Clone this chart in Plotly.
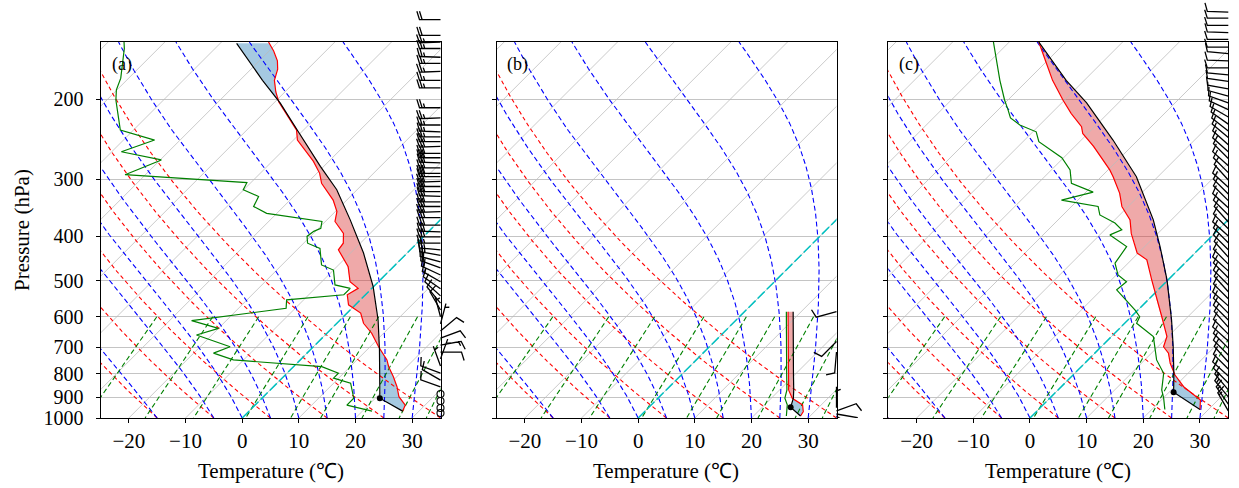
import numpy as np
import plotly.graph_objects as go

# ---------------- data ----------------
# Panel (a): temperature, dew point, parcel profile
a_p = [966, 937, 898, 854, 812, 772, 746, 709, 698, 652, 620, 589, 565, 537, 520, 503, 466, 428, 414, 394,
       371, 353, 333, 306, 291, 274, 254, 246, 234, 218, 203, 193, 182, 172, 165, 157, 150]
a_T = [27.1, 26.5, 23.9, 21.8, 19.4, 16.8, 15.3, 12.4, 11.5, 7.9, 4.7, 2.4, -1.2, -3.2, -2.4, -5.0, -8.0, -12.7,
       -13.0, -14.7, -18.3, -19.7, -22.4, -27.4, -29.5, -32.7, -37.4, -39.3, -41.2, -45.3, -49.3, -51.6, -53.9,
       -55.3, -56.8, -59.2, -61.7]
a_pd = [966, 937, 905, 868, 839, 818, 798, 772, 746, 721, 698, 658, 636, 612, 575, 551, 537, 520, 511, 474,
        462, 425, 414, 400, 390, 384, 371, 356, 344, 327, 316, 305, 293, 272, 261, 246, 234, 215, 201, 191,
        180, 155, 150]
a_Td = [21.7, 16.2, 16.2, 14.4, 13.0, 9.1, 9.1, 5.0, -11.8, -16.5, -14.7, -22.7, -20.0, -26.1, -11.6, -13.0,
        -3.8, -3.8, -7.1, -10.0, -13.0, -16.2, -19.3, -20.6, -20.3, -19.6, -20.6, -31.8, -35.3, -36.2, -40.1,
        -40.7, -63.6, -59.8, -68.3, -64.5, -72.3, -75.7, -78.4, -80.1, -81.4, -86.0, -87.2]
a_pp = [966, 905, 850, 800, 709, 610, 515, 435, 368, 316, 281, 238, 204, 182, 151]
a_Tp = [27.1, 20.8, 18.6, 16.5, 12.2, 6.7, -0.1, -7.7, -15.9, -23.6, -30.6, -40.1, -48.9, -56.0, -67.1]
a_lcl = (905, 20.8)

# Panel (b)
b_p = [990, 968, 936, 905, 868, 800, 750, 700, 650, 585]
b_T = [28.3, 28.0, 26.7, 23.7, 21.6, 18.7, 16.4, 14.0, 11.4, 7.7]
b_pd = [990, 977, 936, 905, 868, 800, 750, 700, 650, 585]
b_Td = [25.8, 25.4, 24.0, 22.4, 21.3, 18.4, 16.1, 13.7, 11.1, 7.4]
b_pp = [990, 947, 905, 868, 800, 700, 585]
b_Tp = [28.3, 25.0, 23.9, 22.5, 19.6, 14.9, 8.6]
b_lcl = (947, 25.0)

# Panel (c)
c_p = [958, 913, 854, 805, 759, 721, 698, 663, 600, 580, 551, 511, 498, 450, 435, 394, 368, 344, 322, 296,
       286, 254, 238, 230, 215, 201, 182, 167, 150]
c_T = [28.5, 26.9, 21.6, 18.0, 15.1, 13.0, 11.0, 9.8, 5.4, 3.9, 1.5, -1.7, -2.9, -7.3, -10.2, -14.7, -17.3,
       -21.1, -23.8, -27.9, -29.7, -36.7, -40.9, -42.3, -46.5, -50.3, -55.6, -59.7, -64.8]
c_pd = [958, 905, 868, 798, 746, 698, 663, 620, 600, 580, 524, 503, 486, 458, 421, 397, 387, 374, 359, 344,
        333, 320, 306, 286, 269, 248, 236, 228, 220, 211, 201, 182, 164, 150]
c_Td = [22.3, 20.1, 18.3, 15.7, 12.1, 9.5, 7.4, 2.1, 1.5, -0.5, -7.3, -7.0, -9.7, -12.3, -13.2, -18.2, -17.0,
        -19.4, -23.5, -25.3, -32.9, -28.7, -34.1, -36.7, -40.3, -47.2, -49.4, -53.5, -56.4, -58.3, -60.6,
        -64.9, -69.1, -72.8]
c_pp = [958, 878, 798, 698, 610, 498, 421, 368, 296, 246, 204, 182, 150]
c_Tp = [28.5, 20.8, 17.5, 12.7, 7.7, -0.2, -7.3, -13.2, -23.8, -34.4, -45.6, -53.2, -64.8]
c_lcl = (878, 20.8)

# Wind barbs: pressure (hPa), direction (deg), speed (kt)
a_bp = [134, 145, 150, 155, 162, 167, 174, 182, 189, 209, 220, 228, 236, 242, 248, 254, 263, 269, 276, 283,
        291, 296, 303, 311, 319, 327, 336, 344, 353, 364, 378, 391, 401, 414, 428, 440, 455, 469, 486, 503,
        521, 540, 560, 580, 600, 622, 645, 668, 692, 717, 742, 769, 797, 826, 855, 886, 918, 951, 975, 1000]
a_bdir = [270, 270, 268, 270, 272, 270, 268, 270, 270, 270, 268, 270, 272, 270, 270, 268, 270, 270, 272, 270,
          270, 270, 268, 270, 270, 272, 270, 270, 268, 270, 270, 272, 270, 270, 275, 280, 285, 290, 295, 300,
          305, 312, 320, 330, 345, 15, 50, 70, 80, 90, 20, 340, 290, 300, 290, 0, 0, 0, 0, 160]
a_bspd = [20, 20, 25, 25, 25, 25, 25, 25, 25, 25, 25, 25, 25, 25, 25, 30, 30, 30, 30, 30,
          30, 30, 30, 30, 30, 30, 30, 30, 30, 30, 30, 30, 30, 25, 25, 25, 20, 20, 20, 15,
          10, 10, 10, 10, 5, 5, 10, 10, 15, 10, 5, 5, 10, 10, 10, 0, 0, 0, 0, 5]
b_bp = [585, 680, 717, 950, 965, 980, 992]
b_bdir = [255, 225, 185, 0, 70, 100, 120]
b_bspd = [10, 10, 10, 5, 10, 10, 10]
c_bp = [129, 133, 138, 143, 148, 154, 159, 165, 171, 177, 183, 190, 197, 204, 211, 219, 227, 235, 243, 252,
        261, 270, 280, 290, 301, 312, 323, 334, 346, 359, 372, 385, 399, 413, 428, 444, 460, 476, 493, 511,
        529, 548, 568, 589, 610, 632, 655, 678, 703, 728, 754, 781, 809, 838, 868, 899, 932, 965, 1000]
c_bdir = [272, 270, 270, 272, 270, 270, 275, 272, 270, 275, 278, 280, 285, 290, 295, 300, 305, 308, 310, 312,
          312, 315, 312, 315, 318, 312, 315, 315, 312, 315, 318, 315, 312, 315, 315, 318, 315, 312, 315, 315,
          318, 315, 312, 315, 315, 318, 315, 312, 315, 315, 318, 315, 312, 315, 320, 320, 325, 330, 150]
c_bspd = [10] * 54 + [15, 15, 15, 15, 10]

ticks_T = [-20, -10, 0, 10, 20, 30]
ticks_p = [200, 300, 400, 500, 600, 700, 800, 900, 1000]
panel_labels = ["(a)", "(b)", "(c)"]

# ---------------- geometry ----------------
W, H = 1239, 488
PX0 = [100.5, 496.5, 888.3]
PW, PT, PB = 340.0, 42.0, 418.0
XMIN, XMAX = -25.0, 35.0
PTOP, PBOT = 150.0, 1000.0
KX = PW / (XMAX - XMIN)
KY = (PB - PT) / np.log10(PBOT / PTOP)
SKEW = KY / KX
SERIF = "Liberation Serif"


def skx(T, p):
    return np.asarray(T, float) + SKEW * np.log10(PBOT / np.asarray(p, float))


def moist_profile(T0c, p):
    Rd, Cp, Lv, eps = 287.04749, 1004.6662, 2.50084e6, 0.6219569

    def f(pp, T):
        Tc = T - 273.15
        es = 6.112 * np.exp(17.67 * Tc / (Tc + 243.5))
        rs = eps * es / (pp - es)
        return (Rd * T + Lv * rs) / (Cp + Lv * Lv * rs * eps / (Rd * T * T)) / pp

    T = T0c + 273.15
    out = [T]
    for i in range(len(p) - 1):
        h = p[i + 1] - p[i]
        k1 = f(p[i], T)
        k2 = f(p[i] + h / 2, T + h / 2 * k1)
        k3 = f(p[i] + h / 2, T + h / 2 * k2)
        k4 = f(p[i + 1], T + h * k3)
        T = T + h / 6 * (k1 + 2 * k2 + 2 * k3 + k4)
        out.append(T)
    return np.array(out) - 273.15


def join(lines):
    xs, ys = [], []
    for x, y in lines:
        xs += list(x) + [None]
        ys += list(y) + [None]
    return xs, ys


p_line = np.logspace(np.log10(PBOT), np.log10(PTOP), 200)
p_mix = np.linspace(600, PBOT, 50)
iso_lines = [(skx(np.full(2, t), [PBOT, PTOP]), [PBOT, PTOP]) for t in range(-90, 31, 10)]
dry_lines = [(skx((t + 273.15) * (p_line / 1000.0) ** 0.2857 - 273.15, p_line), p_line)
             for t in range(-25, 36, 10)]
moist_t0 = list(range(-25, 0, 10)) + list(range(0, 36, 5))
moist_lines = [(skx(moist_profile(t, p_line), p_line), p_line) for t in moist_t0]
mix_lines = []
for w in [0.0004, 0.001, 0.002, 0.004, 0.007, 0.01, 0.016, 0.024, 0.032]:
    e = p_mix * w / (0.6219569 + w)
    lg = np.log(e / 6.112)
    td = 243.5 * lg / (17.67 - lg)
    mix_lines.append((skx(td, p_mix), p_mix))


def shade(pe, Te, pp, Tp):
    lo = max(min(pe), min(pp))
    hi = min(max(pe), max(pp))
    g = np.logspace(np.log10(hi), np.log10(lo), 500)
    lg = np.log10(g)
    te = np.interp(lg, np.log10(pe)[::-1], np.asarray(Te, float)[::-1])
    tp = np.interp(lg, np.log10(pp)[::-1], np.asarray(Tp, float)[::-1])
    d = tp - te
    sgn = np.sign(d)
    polys = []
    i = 0
    n = len(g)
    while i < n:
        if sgn[i] == 0:
            i += 1
            continue
        j = i
        while j + 1 < n and sgn[j + 1] == sgn[i]:
            j += 1
        a0, a1 = max(i - 1, 0), min(j + 1, n - 1)
        idx = np.arange(a0, a1 + 1)
        xs = list(skx(te[idx], g[idx])) + list(skx(tp[idx][::-1], g[idx][::-1]))
        ys = list(g[idx]) + list(g[idx][::-1])
        polys.append((sgn[i] > 0, xs, ys))
        i = j + 1
    return polys


def barb_verts(spd, ddir, L=21.0):
    sp, fh, fw = 0.125 * L, 0.4 * L, 0.25 * L
    mag = 5 * int(spd / 5.0 + 0.5)
    nflag = mag // 50
    mag -= 50 * nflag
    nbarb = mag // 10
    mag -= 10 * nbarb
    half = mag >= 5
    if nflag == 0 and nbarb == 0 and not half:
        return None
    v = [(0.0, 0.0)]
    off = L
    for _ in range(nflag):
        if off != L:
            off += sp / 2
        v += [(0, off), (fh, off - fw / 2), (0, off - fw)]
        off -= fw + sp
    for _ in range(nbarb):
        v += [(0, off), (fh, off + fw / 2), (0, off)]
        off -= sp
    if half:
        if off == L:
            v.append((0, off))
            off -= 1.5 * sp
        v += [(0, off), (fh / 2, off + fw / 4), (0, off)]
    v.append((0.0, 0.0))
    rad = np.radians(ddir)
    u, vv = -spd * np.sin(rad), -spd * np.cos(rad)
    th = np.arctan2(vv, u) + np.pi / 2
    c, s = np.cos(th), np.sin(th)
    return [(x * c - y * s, x * s + y * c) for x, y in v]


fig = go.Figure()
panels = [
    (a_p, a_T, a_pd, a_Td, a_pp, a_Tp, a_lcl, a_bp, a_bdir, a_bspd),
    (b_p, b_T, b_pd, b_Td, b_pp, b_Tp, b_lcl, b_bp, b_bdir, b_bspd),
    (c_p, c_T, c_pd, c_Td, c_pp, c_Tp, c_lcl, c_bp, c_bdir, c_bspd),
]
ext_right = [470.0, 870.0, float(W)]

for k, (pT, T, pD, Td, pP, Tp, lcl, bp, bdir, bspd) in enumerate(panels):
    xa = "x" if k == 0 else f"x{k + 1}"
    ya = "y" if k == 0 else f"y{k + 1}"
    xo, yo = f"x{k + 4}", f"y{k + 4}"
    kw = dict(xaxis=xa, yaxis=ya, hoverinfo="skip", showlegend=False)
    # CAPE / CIN shading
    for pos, xs, ys in shade(pT, T, pP, Tp):
        fig.add_trace(go.Scatter(x=xs, y=ys, mode="lines", fill="toself",
                                 fillcolor="rgba(214,39,40,0.40)" if pos else "rgba(31,119,180,0.40)",
                                 line=dict(width=0), **kw))
    # isotherms
    xs, ys = join(iso_lines)
    fig.add_trace(go.Scatter(x=xs, y=ys, mode="lines", line=dict(color="#bdbdbd", width=0.8), **kw))
    xs, ys = join(dry_lines)
    fig.add_trace(go.Scatter(x=xs, y=ys, mode="lines",
                             line=dict(color="#ff0000", width=1.1, dash="4px,3px"), **kw))
    xs, ys = join(moist_lines)
    fig.add_trace(go.Scatter(x=xs, y=ys, mode="lines",
                             line=dict(color="#0000ff", width=1.1, dash="5px,3px"), **kw))
    xs, ys = join(mix_lines)
    fig.add_trace(go.Scatter(x=xs, y=ys, mode="lines",
                             line=dict(color="#008000", width=1.1, dash="5px,3px"), **kw))
    # 0 degC isotherm
    fig.add_trace(go.Scatter(x=skx([0, 0], [PBOT, PTOP]), y=[PBOT, PTOP], mode="lines",
                             line=dict(color="#00bfbf", width=1.5, dash="10px,3px"), **kw))
    # profiles
    fig.add_trace(go.Scatter(x=skx(T, pT), y=pT, mode="lines", line=dict(color="#ff0000", width=1.2), **kw))
    fig.add_trace(go.Scatter(x=skx(Td, pD), y=pD, mode="lines", line=dict(color="#008000", width=1.2), **kw))
    fig.add_trace(go.Scatter(x=skx(Tp, pP), y=pP, mode="lines", line=dict(color="black", width=1.2), **kw))
    fig.add_trace(go.Scatter(x=skx([lcl[1]], [lcl[0]]), y=[lcl[0]], mode="markers",
                             marker=dict(color="black", size=6), **kw))
    # wind barbs
    bx, by, cx, cy = [], [], [], []
    for pb, dd, ss in zip(bp, bdir, bspd):
        verts = barb_verts(ss, dd)
        if verts is None:
            cx.append(XMAX)
            cy.append(pb)
            continue
        for vx, vy in verts:
            bx.append(XMAX + vx / KX)
            by.append(10 ** (np.log10(pb) - vy / KY))
        bx.append(None)
        by.append(None)
    kwo = dict(xaxis=xo, yaxis=yo, hoverinfo="skip", showlegend=False)
    fig.add_trace(go.Scatter(x=bx, y=by, mode="lines", line=dict(color="black", width=1.3), **kwo))
    if cx:
        fig.add_trace(go.Scatter(x=cx, y=cy, mode="markers",
                                 marker=dict(symbol="circle-open", size=7, color="black",
                                             line=dict(width=1.1, color="black")), **kwo))

layout = dict(width=W, height=H, margin=dict(l=0, r=0, t=0, b=0, autoexpand=False),
              paper_bgcolor="white", plot_bgcolor="rgba(0,0,0,0)", showlegend=False)
ydom = [(H - PB) / H, (H - PT) / H]
for k in range(3):
    sx = "" if k == 0 else str(k + 1)
    x0 = PX0[k]
    layout[f"xaxis{sx}"] = dict(
        domain=[x0 / W, (x0 + PW) / W], range=[XMIN, XMAX], anchor="y" + sx,
        tickvals=ticks_T, ticktext=[str(t).replace("-", "\u2212") for t in ticks_T],
        ticks="outside", ticklen=4, tickwidth=1, tickcolor="black", ticklabelstandoff=0,
        showgrid=False, zeroline=False, showline=True, mirror=True, linecolor="black", linewidth=1,
        tickfont=dict(family=SERIF, size=21, color="black"))
    layout[f"yaxis{sx}"] = dict(
        domain=ydom, type="log", range=[np.log10(PBOT), np.log10(PTOP)], anchor="x" + sx,
        tickvals=ticks_p, ticktext=[str(t) for t in ticks_p], showticklabels=(k == 0),
        ticks="outside", ticklen=4, tickwidth=1, tickcolor="black", ticklabelstandoff=8,
        showgrid=True, gridcolor="#c4c4c4", gridwidth=1, zeroline=False,
        showline=True, mirror=True, linecolor="black", linewidth=1,
        tickfont=dict(family=SERIF, size=20, color="black"))
    # overlay axes for wind barbs
    xr = ext_right[k]
    layout[f"xaxis{k + 4}"] = dict(domain=[x0 / W, xr / W], range=[XMIN, XMIN + (xr - x0) / KX],
                                   anchor=f"y{k + 4}", visible=False, fixedrange=True)
    layout[f"yaxis{k + 4}"] = dict(domain=[(H - PB) / H, 1.0], type="log",
                                   range=[np.log10(PBOT), np.log10(PBOT) - PB / KY],
                                   anchor=f"x{k + 4}", visible=False, fixedrange=True)

ann = []
for k in range(3):
    x0 = PX0[k]
    ann.append(dict(x=(x0 + 21) / W, y=1 - 64 / H, xref="paper", yref="paper", text=panel_labels[k],
                    xanchor="center", yanchor="middle", showarrow=False,
                    font=dict(family=SERIF, size=18, color="black")))
    ann.append(dict(x=(x0 + PW / 2) / W, y=1 - 471 / H, xref="paper", yref="paper",
                    text="Temperature (\u2103)", showarrow=False, xanchor="center", yanchor="middle",
                    font=dict(family=SERIF, size=21, color="black")))
ann.append(dict(x=22 / W, y=1 - 230 / H, xref="paper", yref="paper", text="Pressure (hPa)",
                textangle=-90, showarrow=False, xanchor="center", yanchor="middle",
                font=dict(family=SERIF, size=21, color="black")))
layout["annotations"] = ann
fig.update_layout(**layout)
fig.write_html("out.html", config={"displayModeBar": False},
               post_script="document.body.style.margin='0px';document.body.style.padding='0px';"
                           "document.documentElement.style.overflow='hidden';")
